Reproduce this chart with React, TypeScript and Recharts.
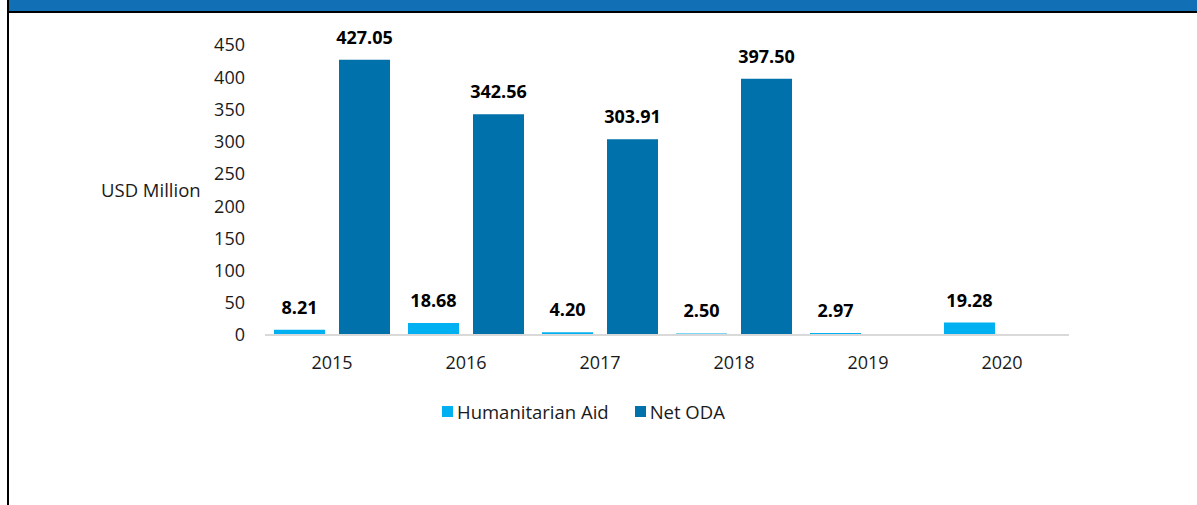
import React from 'react';
import { BarChart, Bar, XAxis, YAxis, Legend, LabelList } from 'recharts';

const years = ['2015', '2016', '2017', '2018', '2019', '2020'];
const humanitarianAid = [8.21, 18.68, 4.2, 2.5, 2.97, 19.28];
const netODA: (number | null)[] = [427.05, 342.56, 303.91, 397.5, null, null];
const yTicks = [0, 50, 100, 150, 200, 250, 300, 350, 400, 450];
const seriesNames = ['Humanitarian Aid', 'Net ODA'];

const HA_COLOR = '#00B0F0';
const ODA_COLOR = '#0071AB';
const FONT = '"Open Sans", "Noto Sans", sans-serif';
const TEXT = '#1a1a1a';

const data = years.map((year, i) => ({
  year,
  ha: humanitarianAid[i],
  oda: netODA[i],
}));

const fmt = (v: any) => (v == null ? '' : Number(v).toFixed(2));

const LegendContent = (props: any) => {
  const { payload = [] } = props;
  return (
    <div style={{ display: 'flex', height: 24, alignItems: 'center', fontFamily: FONT, fontSize: 18.5, color: TEXT, whiteSpace: 'nowrap' }}>
      {payload.map((p: any, i: number) => (
        <div key={i} style={{ display: 'flex', alignItems: 'center', marginRight: 26 }}>
          <span style={{ display: 'inline-block', width: 11, height: 11, background: p.color, marginRight: 4 }} />
          <span>{p.value}</span>
        </div>
      ))}
    </div>
  );
};

export default function App() {
  return (
    <div style={{ position: 'absolute', left: 0, top: 0, width: 1197, height: 505, background: '#fff', overflow: 'hidden' }}>
      <div style={{ position: 'absolute', left: 9, top: 0, width: 1188, height: 11, background: '#1170B5' }} />
      <div style={{ position: 'absolute', left: 7, top: 11, width: 1190, height: 2, background: '#000' }} />
      <div style={{ position: 'absolute', left: 7, top: 0, width: 2, height: 505, background: '#000' }} />
      <div style={{ position: 'absolute', left: 0, top: 0 }}>
        <BarChart
          width={1197}
          height={440}
          data={data}
          margin={{ top: 45, right: 128, left: 100, bottom: 17 }}
          barCategoryGap={9}
          barGap={14}
        >
          <XAxis
            dataKey="year"
            height={64}
            tickLine={false}
            tickSize={0}
            tickMargin={21}
            axisLine={{ stroke: '#D9D9D9', strokeWidth: 2 }}
            tick={{ fill: TEXT, fontSize: 18, fontFamily: FONT }}
          />
          <YAxis
            width={165}
            domain={[0, 450]}
            ticks={yTicks}
            interval={0}
            axisLine={false}
            tickLine={false}
            tickSize={0}
            tickMargin={20}
            tick={{ fill: TEXT, fontSize: 18, fontFamily: FONT }}
            label={{ value: 'USD Million', position: 'insideLeft', offset: 1, fill: TEXT, fontSize: 18.5, fontFamily: FONT }}
          />
          <Legend
            verticalAlign="bottom"
            align="left"
            wrapperStyle={{ left: 442 }}
            content={<LegendContent />}
          />
          <Bar dataKey="ha" name={seriesNames[0]} fill={HA_COLOR} isAnimationActive={false}>
            <LabelList dataKey="ha" position="top" offset={16} formatter={fmt} style={{ fill: '#000', fontWeight: 700, fontSize: 18, fontFamily: FONT }} />
          </Bar>
          <Bar dataKey="oda" name={seriesNames[1]} fill={ODA_COLOR} isAnimationActive={false}>
            <LabelList dataKey="oda" position="top" offset={16} formatter={fmt} style={{ fill: '#000', fontWeight: 700, fontSize: 18, fontFamily: FONT }} />
          </Bar>
        </BarChart>
      </div>
    </div>
  );
}
